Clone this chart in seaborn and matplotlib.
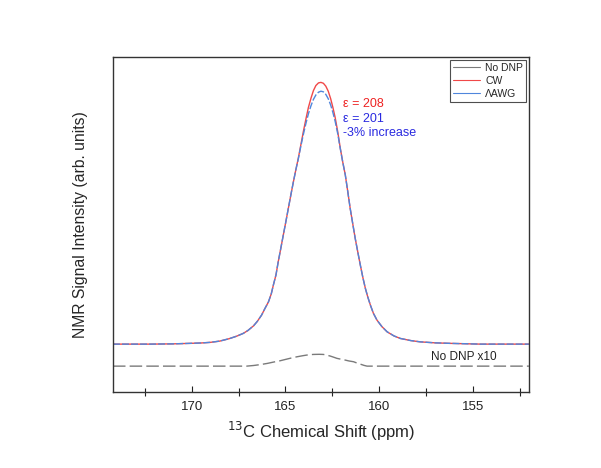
import matplotlib
matplotlib.use("Agg")
import matplotlib.pyplot as plt
import seaborn as sns
import pandas as pd
from matplotlib.ticker import MultipleLocator

# ---- data (ppm, intensity; No-DNP peak = 1) ----
ppm_dnp = [174.2, 172.2, 171.0, 170.1, 169.5, 169.0, 168.5, 168.0, 167.6, 167.25,
           167.0, 166.7, 166.5, 166.27, 166.1, 165.9, 165.75, 165.64, 165.5, 165.38,
           165.25, 165.11, 164.97, 164.84, 164.7, 164.57, 164.44, 164.31, 164.17, 164.04,
           163.9, 163.77, 163.63, 163.5, 163.37, 163.23, 163.1, 162.97, 162.84, 162.71,
           162.58, 162.46, 162.34, 162.2, 162.07, 161.94, 161.8, 161.67, 161.54, 161.4,
           161.27, 161.13, 161.0, 160.87, 160.73, 160.6, 160.46, 160.3, 160.11, 159.85,
           159.57, 159.2, 158.86, 158.3, 157.8, 157.0, 156.2, 155.4, 154.6, 152.0]
cw = [0.0, 0.0, 0.2, 0.6, 0.9, 1.4, 2.4, 4.3, 6.3, 8.5,
      10.8, 14.5, 18.0, 23.0, 28.0, 33.6, 40.0, 46.9, 55.0, 65.4,
      75.5, 86.6, 97.5, 107.9, 119.0, 129.0, 138.5, 147.6, 158.5, 168.8,
      179.0, 188.0, 195.5, 201.5, 205.5, 207.6, 208.0, 207.3, 205.0, 201.0,
      195.0, 188.0, 180.0, 168.5, 156.0, 145.0, 134.5, 121.5, 108.0, 95.5,
      84.0, 73.0, 63.0, 53.5, 44.4, 37.5, 31.0, 24.5, 19.1, 14.0,
      9.8, 6.5, 4.5, 2.8, 1.8, 1.0, 0.6, 0.3, 0.0, 0.0]
aawg = [0.0, 0.0, 0.2, 0.6, 0.9, 1.4, 2.4, 4.3, 6.3, 8.5,
        10.8, 14.5, 18.0, 23.0, 28.0, 33.6, 40.0, 46.9, 55.0, 65.4,
        75.5, 86.6, 97.5, 107.9, 119.0, 129.0, 138.5, 147.0, 157.5, 166.5,
        175.5, 183.0, 189.5, 194.5, 198.0, 200.2, 201.0, 200.5, 198.5, 195.0,
        190.0, 184.0, 177.0, 167.0, 155.5, 145.0, 134.5, 121.5, 108.0, 95.5,
        84.0, 73.0, 63.0, 53.5, 44.4, 37.5, 31.0, 24.5, 19.1, 14.0,
        9.8, 6.5, 4.5, 2.8, 1.8, 1.0, 0.6, 0.3, 0.0, 0.0]

ppm_nodnp = [174.2, 170.0, 167.07, 166.7, 166.3, 165.95, 165.64, 165.3, 165.0, 164.7,
             164.39, 164.1, 163.9, 163.7, 163.5, 163.2, 162.97, 162.8, 162.6, 162.4,
             162.25, 162.0, 161.8, 161.6, 161.36, 161.2, 161.0, 160.8, 160.64, 157.0, 152.0]
nodnp_x10 = [0.0, 0.0, 0.0, 0.5, 1.3, 2.2, 3.2, 4.2, 5.3, 6.4,
             7.4, 8.2, 8.7, 9.1, 9.3, 9.4, 9.3, 8.8, 8.0, 7.0,
             6.2, 5.4, 4.8, 4.1, 3.5, 2.6, 1.6, 0.6, 0.0, 0.0, 0.0]

legend_labels = ["No DNP", "CW", "\u039bAWG"]
eps_cw_text = "\u03b5 = 208"
eps_aawg_text = "\u03b5 = 201"
increase_text = "-3% increase"
nodnp_text = "No DNP x10"
xticks = [170, 165, 160, 155]

nodnp_offset = -17.5

sns.set_style("white")
plt.rcParams["font.family"] = ["Liberation Sans", "DejaVu Sans"]

fig = plt.figure(figsize=(6.01, 4.68), dpi=100)
ax = fig.add_axes([0.188, 0.162, 0.692, 0.716])

df_cw = pd.DataFrame({"ppm": ppm_dnp, "I": cw})
df_aw = pd.DataFrame({"ppm": ppm_dnp, "I": aawg})
df_nd = pd.DataFrame({"ppm": ppm_nodnp, "I": [v + nodnp_offset for v in nodnp_x10]})

sns.lineplot(data=df_nd, x="ppm", y="I", ax=ax, sort=False, color="#7a7a7a",
             lw=1.0, label=legend_labels[0])
ax.lines[-1].set_dashes([9, 3])
sns.lineplot(data=df_cw, x="ppm", y="I", ax=ax, sort=False, color="#f04848",
             lw=1.0, label=legend_labels[1])
sns.lineplot(data=df_aw, x="ppm", y="I", ax=ax, sort=False, color="#4f86dc",
             lw=1.0, label=legend_labels[2])
ax.lines[-1].set_dashes([5, 1.5])

ax.set_xlim(174.2, 152.0)
ax.set_ylim(-38.2, 228.1)
ax.set_yticks([])
ax.set_xticks(xticks)
ax.xaxis.set_minor_locator(MultipleLocator(2.5))
ax.tick_params(axis="x", which="major", direction="in", length=4, width=0.8,
               labelsize=9.5, pad=6, colors="#222222", bottom=True)
ax.tick_params(axis="x", which="minor", direction="inout", length=6, width=0.8,
               colors="#222222", bottom=True)

for s in ax.spines.values():
    s.set_visible(True)
    s.set_color("#333333")
    s.set_linewidth(1.0)

ax.set_xlabel("$^{13}$C Chemical Shift (ppm)", fontsize=12, labelpad=5)
ax.set_ylabel("NMR Signal Intensity (arb. units)", fontsize=11.3, labelpad=18)

ax.text(161.9, 190.5, eps_cw_text, color="#ee2222", fontsize=9, va="center", ha="left")
ax.text(161.9, 178.6, eps_aawg_text, color="#2a2ae0", fontsize=9, va="center", ha="left")
ax.text(161.9, 167.5, increase_text, color="#2a2ae0", fontsize=9, va="center", ha="left")
ax.text(157.2, -10.3, nodnp_text, color="#222222", fontsize=8.5, va="center", ha="left")

leg = ax.legend(loc="upper right", fontsize=7.5, frameon=True, fancybox=False,
                handlelength=2.6, handletextpad=0.5, borderpad=0.3,
                labelspacing=0.3, borderaxespad=0.25)
leg.get_frame().set_edgecolor("#222222")
leg.get_frame().set_linewidth(0.8)
for h in leg.get_lines():
    h.set_linestyle("-")
    h.set_linewidth(0.8)

fig.savefig("out.png", dpi=100, facecolor="white")
